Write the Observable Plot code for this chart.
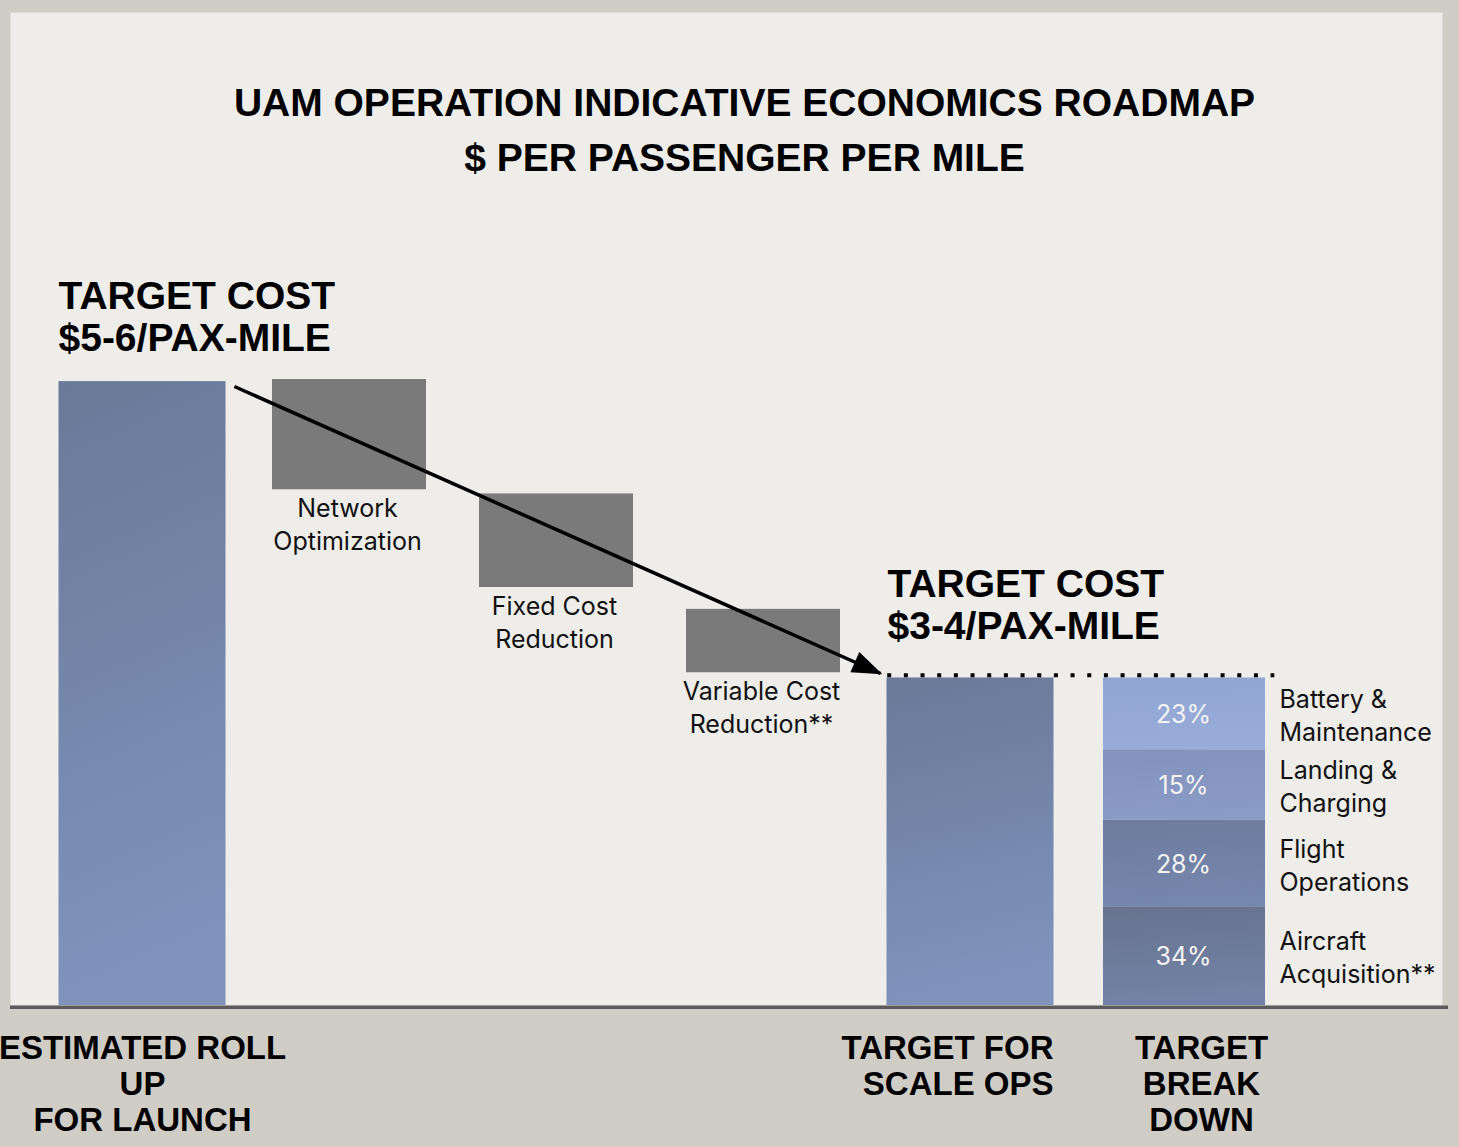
<!DOCTYPE html>
<html>
<head>
<meta charset="utf-8">
<script src="https://cdn.jsdelivr.net/npm/d3@7"></script>
<script src="https://cdn.jsdelivr.net/npm/@observablehq/plot@0.6"></script>
<style>
  html, body { margin: 0; padding: 0; background: #d0ccc6; }
  #chart { width: 1459px; height: 1147px; }
</style>
</head>
<body>
<div id="chart"></div>
<script>
// ---------- DATA ($-scale units) ----------
const titleLines = ["UAM OPERATION INDICATIVE ECONOMICS ROADMAP", "$ PER PASSENGER PER MILE"];

// slot index on the x axis
const totalSlots = [0, 4];
const totalValues = [6.0, 3.15];
const totalLabels = ["ESTIMATED ROLL\nUP\nFOR LAUNCH", "TARGET FOR\nSCALE OPS"];
const targetCostLabels = ["TARGET COST\n$5-6/PAX-MILE", "TARGET COST\n$3-4/PAX-MILE"];

const reductionSlots = [1, 2, 3];
const reductionNames = ["Network\nOptimization", "Fixed Cost\nReduction", "Variable Cost\nReduction**"];
const reductionTop = [6.02, 4.92, 3.81];
const reductionBottom = [4.96, 4.02, 3.20];

const breakdownSlot = 5;
const breakdownLabel = "TARGET\nBREAK\nDOWN";
const breakdownNames = ["Aircraft\nAcquisition**", "Flight\nOperations", "Landing &\nCharging", "Battery &\nMaintenance"];
const breakdownShares = ["34%", "28%", "15%", "23%"];
const breakdownHeights = [0.95, 0.83, 0.68, 0.69];
const breakdownGradients = ["url(#gSeg0)", "url(#gSeg1)", "url(#gSeg2)", "url(#gSeg3)"];

// trend arrow (from top of launch bar to top of scale-ops bar) and target dotted line
const arrowFrom = {slot: 0.944, value: 5.953};
const arrowTo = {slot: 4.065, value: 3.193};
const targetLine = {value: 3.177, from: 4.100, to: 5.970};

// ---------- TABLES BUILT FROM ARRAYS ----------
const totals = totalSlots.map((s, i) => ({slot: s, value: totalValues[i], label: totalLabels[i], cost: targetCostLabels[i]}));
const reductions = reductionSlots.map((s, i) => ({slot: s, name: reductionNames[i], top: reductionTop[i], bottom: reductionBottom[i]}));
const cum = d3.cumsum(breakdownHeights);
const segments = breakdownHeights.map((h, i) => ({
  slot: breakdownSlot, name: breakdownNames[i], share: breakdownShares[i],
  y1: cum[i] - h, y2: cum[i], mid: cum[i] - h / 2, fill: breakdownGradients[i]
}));

const BOLD = "'Liberation Sans', Arial, Helvetica, sans-serif";
const REG = "Inter, 'Liberation Sans', Arial, sans-serif";

const svg = Plot.plot({
  width: 1459,
  height: 1147,
  marginLeft: 10,
  marginRight: 17,
  marginTop: 12,
  marginBottom: 142,
  style: {background: "#d0ccc6", overflow: "visible"},
  x: {domain: [0, 6], range: [38.5, 1280.5], axis: null},
  y: {domain: [0, 9.55], axis: null},
  color: {type: "identity"},
  marks: [
    Plot.frame({fill: "#efedea", stroke: "none"}),
    // total bars
    Plot.rectY(totals, {x1: d => d.slot, x2: d => d.slot + 1, y1: 0, y2: "value", fill: "url(#gBlue)", insetLeft: 20, insetRight: 20}),
    // reduction (floating) bars
    Plot.rect(reductions, {x1: d => d.slot, x2: d => d.slot + 1, y1: "bottom", y2: "top", fill: "#7a7a7a", insetLeft: 26.5, insetRight: 26.5}),
    // breakdown stack
    Plot.rect(segments, {x1: d => d.slot, x2: d => d.slot + 1, y1: "y1", y2: "y2", fill: "fill", insetLeft: 29.5, insetRight: 15.5}),
    // dotted target line
    Plot.ruleY([targetLine], {y: "value", x1: "from", x2: "to", stroke: "#000", strokeWidth: 4, strokeDasharray: "4 12.67"}),
    // trend arrow
    Plot.link([{a: arrowFrom, b: arrowTo}], {x1: d => d.a.slot, y1: d => d.a.value, x2: d => d.b.slot, y2: d => d.b.value, stroke: "#000", strokeWidth: 3.5, ariaLabel: "trend-arrow"}),
    // baseline
    Plot.ruleY([0], {stroke: "#5c5c5c", strokeWidth: 3.5, dy: 1.7, insetRight: -6}),
    // title
    Plot.text([titleLines.join("\n")], {frameAnchor: "top", lineAnchor: "bottom", dy: 158.7, dx: 18, lineHeight: 1.41, fontSize: 39, fontWeight: "bold", fontFamily: BOLD, fill: "#000"}),
    // target cost labels
    Plot.text(totals, {x: "slot", y: "value", text: "cost", textAnchor: "start", lineAnchor: "bottom", dx: 19.5, dy: -31, filter: d => d.slot === 0, lineHeight: 1.08, fontSize: 39, fontWeight: "bold", fontFamily: BOLD, fill: "#000"}),
    Plot.text(totals, {x: "slot", y: "value", text: "cost", textAnchor: "start", lineAnchor: "bottom", dx: 20.5, dy: -38.5, filter: d => d.slot === 4, lineHeight: 1.08, fontSize: 39, fontWeight: "bold", fontFamily: BOLD, fill: "#000"}),
    // reduction labels
    Plot.text(reductions, {x: d => d.slot + 0.5, y: "bottom", text: "name", lineAnchor: "top", dx: -2, dy: 4, lineHeight: 1.32, fontSize: 25, fontFamily: REG, fill: "#111"}),
    // breakdown percentages
    Plot.text(segments, {x: d => d.slot + 0.5, y: "mid", text: "share", lineAnchor: "middle", dx: 6, dy: 1, fontSize: 25, fontFamily: REG, fill: "#f4f4f4"}),
    // breakdown category names
    Plot.text(segments, {x: d => d.slot + 1, y: "mid", text: "name", textAnchor: "start", lineAnchor: "middle", dx: -1.5, lineHeight: 1.33, fontSize: 25, fontFamily: REG, fill: "#111"}),
    // bottom category labels
    Plot.text(totals, {x: d => d.slot + 0.5, y: 0, text: "label", filter: d => d.slot === 0, lineAnchor: "top", dy: 27.6, lineHeight: 1.097, fontSize: 33, fontWeight: "bold", fontFamily: BOLD, fill: "#000"}),
    Plot.text(totals, {x: d => d.slot + 1, y: 0, text: "label", filter: d => d.slot === 4, textAnchor: "end", lineAnchor: "top", dx: -20.5, dy: 27.6, lineHeight: 1.097, fontSize: 33, fontWeight: "bold", fontFamily: BOLD, fill: "#000"}),
    Plot.text([breakdownLabel], {x: breakdownSlot + 0.5, y: 0, text: d => d, lineAnchor: "top", dx: 24, dy: 27.6, lineHeight: 1.097, fontSize: 33, fontWeight: "bold", fontFamily: BOLD, fill: "#000"})
  ]
});

// gradients + arrow head
const defs = d3.select(svg).insert("defs", ":first-child");
function grad(id, c1, c2) {
  const g = defs.append("linearGradient").attr("id", id)
    .attr("x1", 0).attr("y1", 0).attr("x2", 0.12).attr("y2", 1);
  g.append("stop").attr("offset", 0).attr("stop-color", c1);
  g.append("stop").attr("offset", 1).attr("stop-color", c2);
}
grad("gBlue", "#6a7998", "#7f93bc");
grad("gSeg0", "#67738e", "#7382a6");
grad("gSeg1", "#6d7b9e", "#7687ad");
grad("gSeg2", "#8292bd", "#8a9bc6");
grad("gSeg3", "#91a5d3", "#98abd9");
defs.append("marker").attr("id", "headTri")
  .attr("markerUnits", "userSpaceOnUse")
  .attr("markerWidth", 32).attr("markerHeight", 24)
  .attr("refX", 28).attr("refY", 11).attr("orient", "auto")
  .attr("overflow", "visible")
  .append("path").attr("d", "M0,0 L30,11 L0,22 Z").attr("fill", "#000");
d3.select(svg).selectAll('[aria-label="trend-arrow"], g[aria-label="link"] path, g[aria-label="link"] line')
  .filter(function() { return this.tagName === "path" || this.tagName === "line"; })
  .attr("marker-end", "url(#headTri)");

document.getElementById("chart").appendChild(svg);
</script>
</body>
</html>
